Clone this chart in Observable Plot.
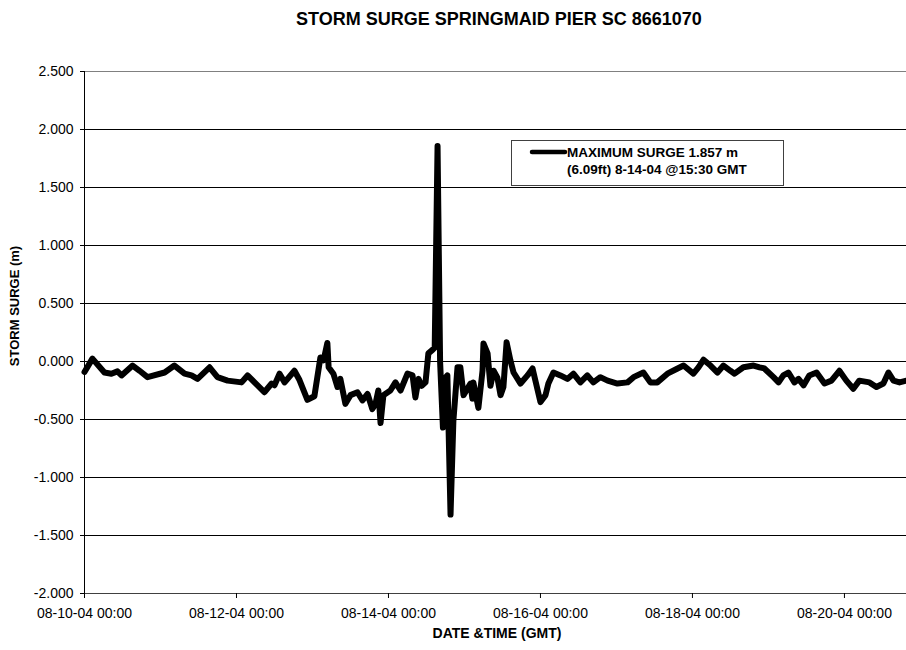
<!DOCTYPE html>
<html>
<head>
<meta charset="utf-8">
<script src="https://cdn.jsdelivr.net/npm/d3@7"></script>
<script src="https://cdn.jsdelivr.net/npm/@observablehq/plot@0.6"></script>
<style>
  body { margin: 0; background: #fff; }
  #chart { width: 906px; font-family: "Liberation Sans", Arial, sans-serif; }
  #title { height: 50px; box-sizing: border-box; padding-top: 9px; padding-left: 92px;
           line-height: 20px; font-size: 18px; font-weight: bold; text-align: center; color: #000; }
</style>
</head>
<body>
<div id="chart">
  <div id="title">STORM SURGE SPRINGMAID PIER SC 8661070</div>
</div>
<script>
// ---- data ----
const startDate = "2004-08-10T00:00:00Z";
const endHours = 259.6;
const hoursFromStart = [
  0, 2.5, 6.3, 8.5, 10.4, 11.7, 15.2, 17.4, 19.9, 25.3, 28.4, 31.6, 33.8, 35.7, 39.5, 42.0,
  45.2, 49.6, 51.5, 53.7, 56.8, 59.1, 60.0, 61.6, 63.2, 66.3, 67.9, 70.4, 72.6, 74.5, 75.5,
  76.7, 77.1, 78.6, 79.9, 80.8, 82.4, 84.0, 86.2, 87.8, 89.4, 90.9, 91.9, 92.8, 93.5, 94.4,
  96.6, 98.2, 99.8, 102.0, 103.6, 104.5, 105.5, 106.5, 107.7, 108.6, 109.9, 110.6, 111.5,
  112.3, 113.2, 114.0, 114.6, 115.6, 116.5, 117.8, 118.7, 119.7, 121.9, 122.5, 122.8, 124.4,
  125.7, 126.0, 127.3, 128.2, 129.2, 130.4, 131.4, 132.3, 133.3, 134.5, 135.5, 137.7, 139.9,
  141.5, 142.4, 144.0, 145.6, 146.5, 148.1, 150.3, 152.5, 154.4, 156.6, 158.8, 160.7, 162.9,
  165.2, 168.3, 171.5, 173.4, 176.5, 178.7, 180.9, 184.1, 187.3, 189.2, 192.3, 193.9, 195.5,
  197.7, 199.9, 201.8, 204.0, 205.3, 208.1, 211.3, 213.2, 214.7, 217.6, 219.2, 220.7, 222.3,
  224.2, 225.5, 227.1, 228.9, 231.2, 233.7, 235.9, 238.4, 240.6, 242.8, 244.7, 247.9, 250.1,
  252.3, 253.9, 255.5, 257.4, 259.6
];
const surgeMeters = [
  -0.09, 0.025, -0.095, -0.105, -0.085, -0.12, -0.035, -0.08, -0.135, -0.095, -0.035, -0.105, -0.12, -0.15, -0.05, -0.135,
  -0.165, -0.18, -0.12, -0.18, -0.265, -0.19, -0.205, -0.105, -0.18, -0.08, -0.16, -0.33, -0.30, 0.035, 0.01,
  0.16, -0.05, -0.105, -0.22, -0.15, -0.365, -0.29, -0.265, -0.335, -0.28, -0.41, -0.365, -0.25, -0.53, -0.29,
  -0.25, -0.18, -0.25, -0.105, -0.12, -0.31, -0.15, -0.21, -0.18, 0.07, 0.10, 0.12, 1.857,
  0.0, -0.57, -0.14, -0.12, -1.32, -0.51, -0.05, -0.05, -0.29, -0.19, -0.32, -0.18, -0.40,
  -0.08, 0.155, 0.07, -0.21, -0.08, -0.14, -0.29, -0.22, 0.165, 0.01, -0.095, -0.19, -0.12,
  -0.06, -0.165, -0.35, -0.29, -0.19, -0.095, -0.12, -0.15, -0.105, -0.18, -0.12, -0.18, -0.135,
  -0.165, -0.19, -0.18, -0.135, -0.095, -0.18, -0.18, -0.105, -0.06, -0.035, -0.105, -0.05, 0.015,
  -0.035, -0.095, -0.035, -0.08, -0.105, -0.05, -0.035, -0.05, -0.06, -0.135, -0.18, -0.12, -0.095,
  -0.18, -0.15, -0.205, -0.12, -0.095, -0.19, -0.165, -0.08, -0.165, -0.235, -0.165, -0.18, -0.22,
  -0.19, -0.095, -0.165, -0.18, -0.165
];
const yTicks = [-2.0, -1.5, -1.0, -0.5, 0.0, 0.5, 1.0, 1.5, 2.0, 2.5];
const xTickDates = ["2004-08-10", "2004-08-12", "2004-08-14", "2004-08-16", "2004-08-18", "2004-08-20"];
const legendLines = ["MAXIMUM SURGE 1.857 m", "(6.09ft) 8-14-04 @15:30 GMT"];
const yAxisTitle = "STORM SURGE (m)";
const xAxisTitle = "DATE &TIME (GMT)";

// ---- build ----
const t0 = new Date(startDate).getTime();
const toDate = h => new Date(t0 + h * 3600e3);
const data = hoursFromStart.map((h, i) => ({date: toDate(h), value: surgeMeters[i]}));
const xTicks = xTickDates.map(s => new Date(s + "T00:00:00Z"));
const fmtX = d3.utcFormat("%m-%d-%y %H:%M");

const W = 906, H = 600;
const plot = Plot.plot({
  width: W,
  height: H,
  marginTop: 21,
  marginBottom: 57,
  marginLeft: 84,
  marginRight: 0,
  style: {fontFamily: "'Liberation Sans', Arial, sans-serif", fontSize: "14px", color: "#000", background: "#fff"},
  x: {type: "utc", domain: [toDate(0), toDate(endHours)]},
  y: {domain: [-2, 2.5]},
  marks: [
    Plot.ruleY(yTicks.filter(v => v > -2 && v < 2.5), {stroke: "#000", strokeWidth: 1, strokeOpacity: 1}),
    Plot.ruleY([2.5], {stroke: "#808080", strokeWidth: 1}),
    Plot.ruleY([-2], {stroke: "#404040", strokeWidth: 1}),
    Plot.ruleX([toDate(0)], {stroke: "#000", strokeWidth: 1}),
    Plot.axisY({ticks: yTicks, tickSize: 4, tickPadding: 7, tickFormat: d => d.toFixed(3), label: null, stroke: "#000", fill: "#000", fontSize: 14}),
    Plot.axisX({ticks: xTicks, tickSize: 5, tickPadding: 10, tickFormat: fmtX, label: null, stroke: "#000", fill: "#000", fontSize: 14}),
    Plot.line(data, {x: "date", y: "value", stroke: "#000", strokeWidth: 6, strokeLinejoin: "round", strokeLinecap: "round"})
  ]
});
document.getElementById("chart").appendChild(plot);

const svg = d3.select(plot);
// axis titles
svg.append("text")
  .attr("transform", "translate(19,256) rotate(-90)")
  .attr("text-anchor", "middle")
  .attr("font-weight", "bold").attr("font-size", 13).attr("fill", "#000")
  .text(yAxisTitle);
svg.append("text")
  .attr("x", 497).attr("y", 588)
  .attr("text-anchor", "middle")
  .attr("font-weight", "bold").attr("font-size", 14).attr("fill", "#000")
  .text(xAxisTitle);

// legend
const lg = svg.append("g").attr("text-anchor", "start");
lg.append("rect").attr("x", 511.5).attr("y", 90.5).attr("width", 272).attr("height", 45)
  .attr("fill", "#fff").attr("stroke", "#404040").attr("stroke-width", 1);
lg.append("line").attr("x1", 532).attr("x2", 565).attr("y1", 102).attr("y2", 102)
  .attr("stroke", "#000").attr("stroke-width", 4.5).attr("stroke-linecap", "round");
legendLines.forEach((s, i) => {
  lg.append("text").attr("x", 567).attr("y", 107 + i * 17)
    .attr("text-anchor", "start")
    .attr("font-weight", "bold").attr("font-size", 13.5).attr("fill", "#000").text(s);
});
</script>
</body>
</html>
